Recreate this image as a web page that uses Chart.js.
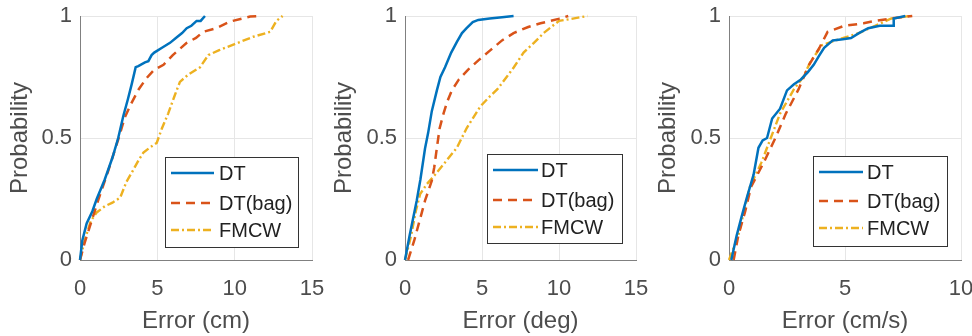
<!DOCTYPE html>
<html>
<head>
<meta charset="utf-8">
<script src="https://cdn.jsdelivr.net/npm/chart.js@4.4.1/dist/chart.umd.min.js"></script>
<style>
  body { margin: 0; background: #fff; }
  canvas { position: absolute; top: 0; }
</style>
</head>
<body>
<canvas id="c1" width="324" height="336" style="left:0px"></canvas>
<canvas id="c2" width="324" height="336" style="left:324px"></canvas>
<canvas id="c3" width="324" height="336" style="left:648px"></canvas>
<script>
// series labels
const seriesNames = ['DT', 'DT(bag)', 'FMCW'];
const yTicks = [0, 0.5, 1];

// distance error CDF, [error, probability]
const cmDT = [[0,0],[0.15,0.08],[0.43,0.15],[0.8,0.2],[1.08,0.25],[1.6,0.33],[2.1,0.42],[2.47,0.5],[2.8,0.59],[3.1,0.66],[3.34,0.72],[3.6,0.79],[3.77,0.795],[4.2,0.81],[4.42,0.815],[4.63,0.84],[4.8,0.85],[5.3,0.87],[5.82,0.89],[6.2,0.91],[6.6,0.93],[6.9,0.95],[7.2,0.96],[7.54,0.98],[7.8,0.98],[8.08,1]];
const cmBag = [[0,0],[0.3,0.07],[0.7,0.15],[1.2,0.25],[1.8,0.36],[2.5,0.5],[2.9,0.585],[3.3,0.64],[3.8,0.7],[4.3,0.745],[4.8,0.78],[5.4,0.8],[6.0,0.84],[6.9,0.89],[7.5,0.91],[7.96,0.935],[8.8,0.95],[9.7,0.977],[10.5,0.99],[11,0.998],[11.7,1]];
const cmFMCW = [[0,0],[0.3,0.08],[0.7,0.16],[1.08,0.195],[1.6,0.22],[2.1,0.235],[2.6,0.256],[3.0,0.32],[3.45,0.37],[3.8,0.41],[4.1,0.44],[4.5,0.46],[4.96,0.48],[5.3,0.54],[5.7,0.6],[6.1,0.67],[6.46,0.73],[7.0,0.76],[7.76,0.79],[8.3,0.84],[9.0,0.86],[10.0,0.885],[11.2,0.915],[12.3,0.935],[12.7,0.98],[13.1,1]];

// angle error CDF
const degDT = [[0,0],[0.3,0.1],[0.76,0.243],[1.0,0.33],[1.3,0.457],[1.5,0.52],[1.74,0.61],[2.07,0.695],[2.3,0.75],[2.6,0.79],[3.0,0.85],[3.37,0.894],[3.7,0.93],[4.0,0.95],[4.4,0.975],[4.76,0.984],[5.5,0.99],[6.3,0.995],[7.05,1]];
const degBag = [[0.2,0],[0.6,0.08],[0.9,0.15],[1.3,0.243],[1.74,0.325],[1.9,0.38],[2.07,0.46],[2.25,0.54],[2.5,0.6],[2.75,0.65],[3.04,0.695],[3.5,0.74],[4.1,0.78],[4.8,0.82],[5.55,0.86],[6.3,0.9],[7.05,0.93],[8.0,0.955],[8.8,0.97],[10.1,0.99],[10.6,1]];
const degFMCW = [[0,0],[0.4,0.1],[0.7,0.2],[0.98,0.27],[1.4,0.31],[1.96,0.35],[2.6,0.4],[3.37,0.46],[4.0,0.54],[4.9,0.63],[5.5,0.67],[6.0,0.7],[6.6,0.75],[7.07,0.79],[7.7,0.85],[8.37,0.89],[9.0,0.93],[9.5,0.955],[10.0,0.98],[10.5,0.985],[11.85,1]];

// velocity error CDF
const velDT = [[0.1,0],[0.33,0.1],[0.55,0.18],[0.77,0.256],[1.06,0.35],[1.27,0.46],[1.45,0.49],[1.64,0.5],[1.86,0.58],[2.2,0.62],[2.5,0.695],[2.8,0.72],[3.1,0.74],[3.4,0.77],[3.65,0.8],[3.9,0.84],[4.1,0.87],[4.47,0.9],[4.9,0.905],[5.26,0.91],[5.6,0.93],[6.0,0.95],[6.5,0.96],[7.07,0.96],[7.1,0.99],[7.6,1]];
const velBag = [[0.2,0],[0.4,0.1],[0.7,0.2],[0.95,0.3],[1.5,0.4],[2.0,0.5],[2.45,0.6],[3.0,0.7],[3.45,0.8],[3.9,0.87],[4.25,0.935],[4.97,0.96],[5.8,0.97],[6.3,0.98],[7.0,0.99],[7.9,1]];
const velFMCW = [[0,0],[0.4,0.1],[0.65,0.2],[0.9,0.3],[1.4,0.4],[1.8,0.5],[2.2,0.6],[2.8,0.7],[3.2,0.75],[3.5,0.81],[4.0,0.88],[4.6,0.9],[5.6,0.93],[6.3,0.96],[7.0,0.99],[7.8,1]];

const styles = [
  { borderColor: '#0072BD', borderWidth: 2.5, borderDash: [] },
  { borderColor: '#D95319', borderWidth: 2.5, borderDash: [9, 6] },
  { borderColor: '#EDB120', borderWidth: 2.4, borderDash: [8, 3, 2, 3] }
];

const textColor = '#4d4d4d';
const font = "'Liberation Sans', Arial, sans-serif";

// legend box drawn inside the plot area, MATLAB style
const boxLegend = {
  id: 'boxLegend',
  afterDraw(chart, args, opts) {
    const ctx = chart.ctx, a = chart.chartArea;
    const x0 = Math.round(a.right - opts.right - opts.w);
    const y0 = Math.round(a.bottom - opts.bottom - opts.h);
    ctx.save();
    ctx.fillStyle = '#fff';
    ctx.fillRect(x0, y0, opts.w, opts.h);
    ctx.strokeStyle = '#333';
    ctx.lineWidth = 1;
    ctx.strokeRect(x0 + 0.5, y0 + 0.5, opts.w, opts.h);
    ctx.font = opts.size + 'px ' + font;
    ctx.textBaseline = 'middle';
    chart.data.datasets.forEach((ds, i) => {
      const yy = y0 + opts.rows[i];
      ctx.strokeStyle = ds.borderColor;
      ctx.lineWidth = ds.borderWidth;
      ctx.setLineDash(ds.borderDash);
      ctx.beginPath();
      ctx.moveTo(x0 + 6, yy);
      ctx.lineTo(x0 + opts.sample, yy);
      ctx.stroke();
      ctx.setLineDash([]);
      ctx.fillStyle = '#222';
      ctx.fillText(ds.label, x0 + opts.textX, yy + 1);
    });
    ctx.restore();
  }
};

function makePanel(id, series, xMax, xTitle, yW, padR, legend) {
  const ctx = document.getElementById(id).getContext('2d');
  return new Chart(ctx, {
    type: 'line',
    data: {
      datasets: series.map((pts, i) => ({
        label: seriesNames[i],
        data: pts.map(p => ({ x: p[0], y: p[1] })),
        ...styles[i],
        pointRadius: 0,
        fill: false,
        tension: 0,
        clip: 4
      }))
    },
    options: {
      responsive: false,
      animation: false,
      layout: { padding: { top: 16, right: padR, left: 0, bottom: 0 } },
      plugins: { legend: { display: false }, tooltip: { enabled: false }, boxLegend: legend },
      scales: {
        x: {
          type: 'linear', min: 0, max: xMax,
          afterFit: s => { s.height = 76; s.paddingLeft = 0; s.paddingRight = 0; },
          ticks: { stepSize: 5, color: textColor, font: { size: 22, family: font }, padding: 16, maxRotation: 0 },
          grid: { color: '#e6e6e6', tickLength: 0 },
          border: { color: '#808080' },
          title: { display: true, text: xTitle, color: textColor, font: { size: 24, family: font }, padding: { bottom: 0 } }
        },
        y: {
          min: 0, max: 1,
          afterFit: s => { s.width = yW; s.paddingTop = 0; s.paddingBottom = 0; },
          afterBuildTicks: s => { s.ticks = yTicks.map(v => ({ value: v })); },
          ticks: { color: textColor, font: { size: 22, family: font }, padding: 8, callback: v => String(v) },
          grid: { color: '#e6e6e6', tickLength: 0 },
          border: { color: '#808080' },
          title: { display: true, text: 'Probability', color: textColor, font: { size: 24, family: font }, padding: { top: 6 } }
        }
      }
    },
    plugins: [boxLegend]
  });
}

makePanel('c1', [cmDT, cmBag, cmFMCW], 15, 'Error (cm)', 80, 12,
  { w: 133, h: 90, right: 14, bottom: 13, rows: [16, 46, 73], sample: 49, textX: 54, size: 20 });
makePanel('c2', [degDT, degBag, degFMCW], 15, 'Error (deg)', 81, 12,
  { w: 135, h: 89, right: 14, bottom: 17, rows: [16, 46, 73], sample: 51, textX: 54, size: 20 });
makePanel('c3', [velDT, velBag, velFMCW], 10, 'Error (cm/s)', 81, 11,
  { w: 134, h: 90, right: 14, bottom: 14, rows: [16, 45, 72], sample: 50, textX: 54, size: 20 });
</script>
</body>
</html>
